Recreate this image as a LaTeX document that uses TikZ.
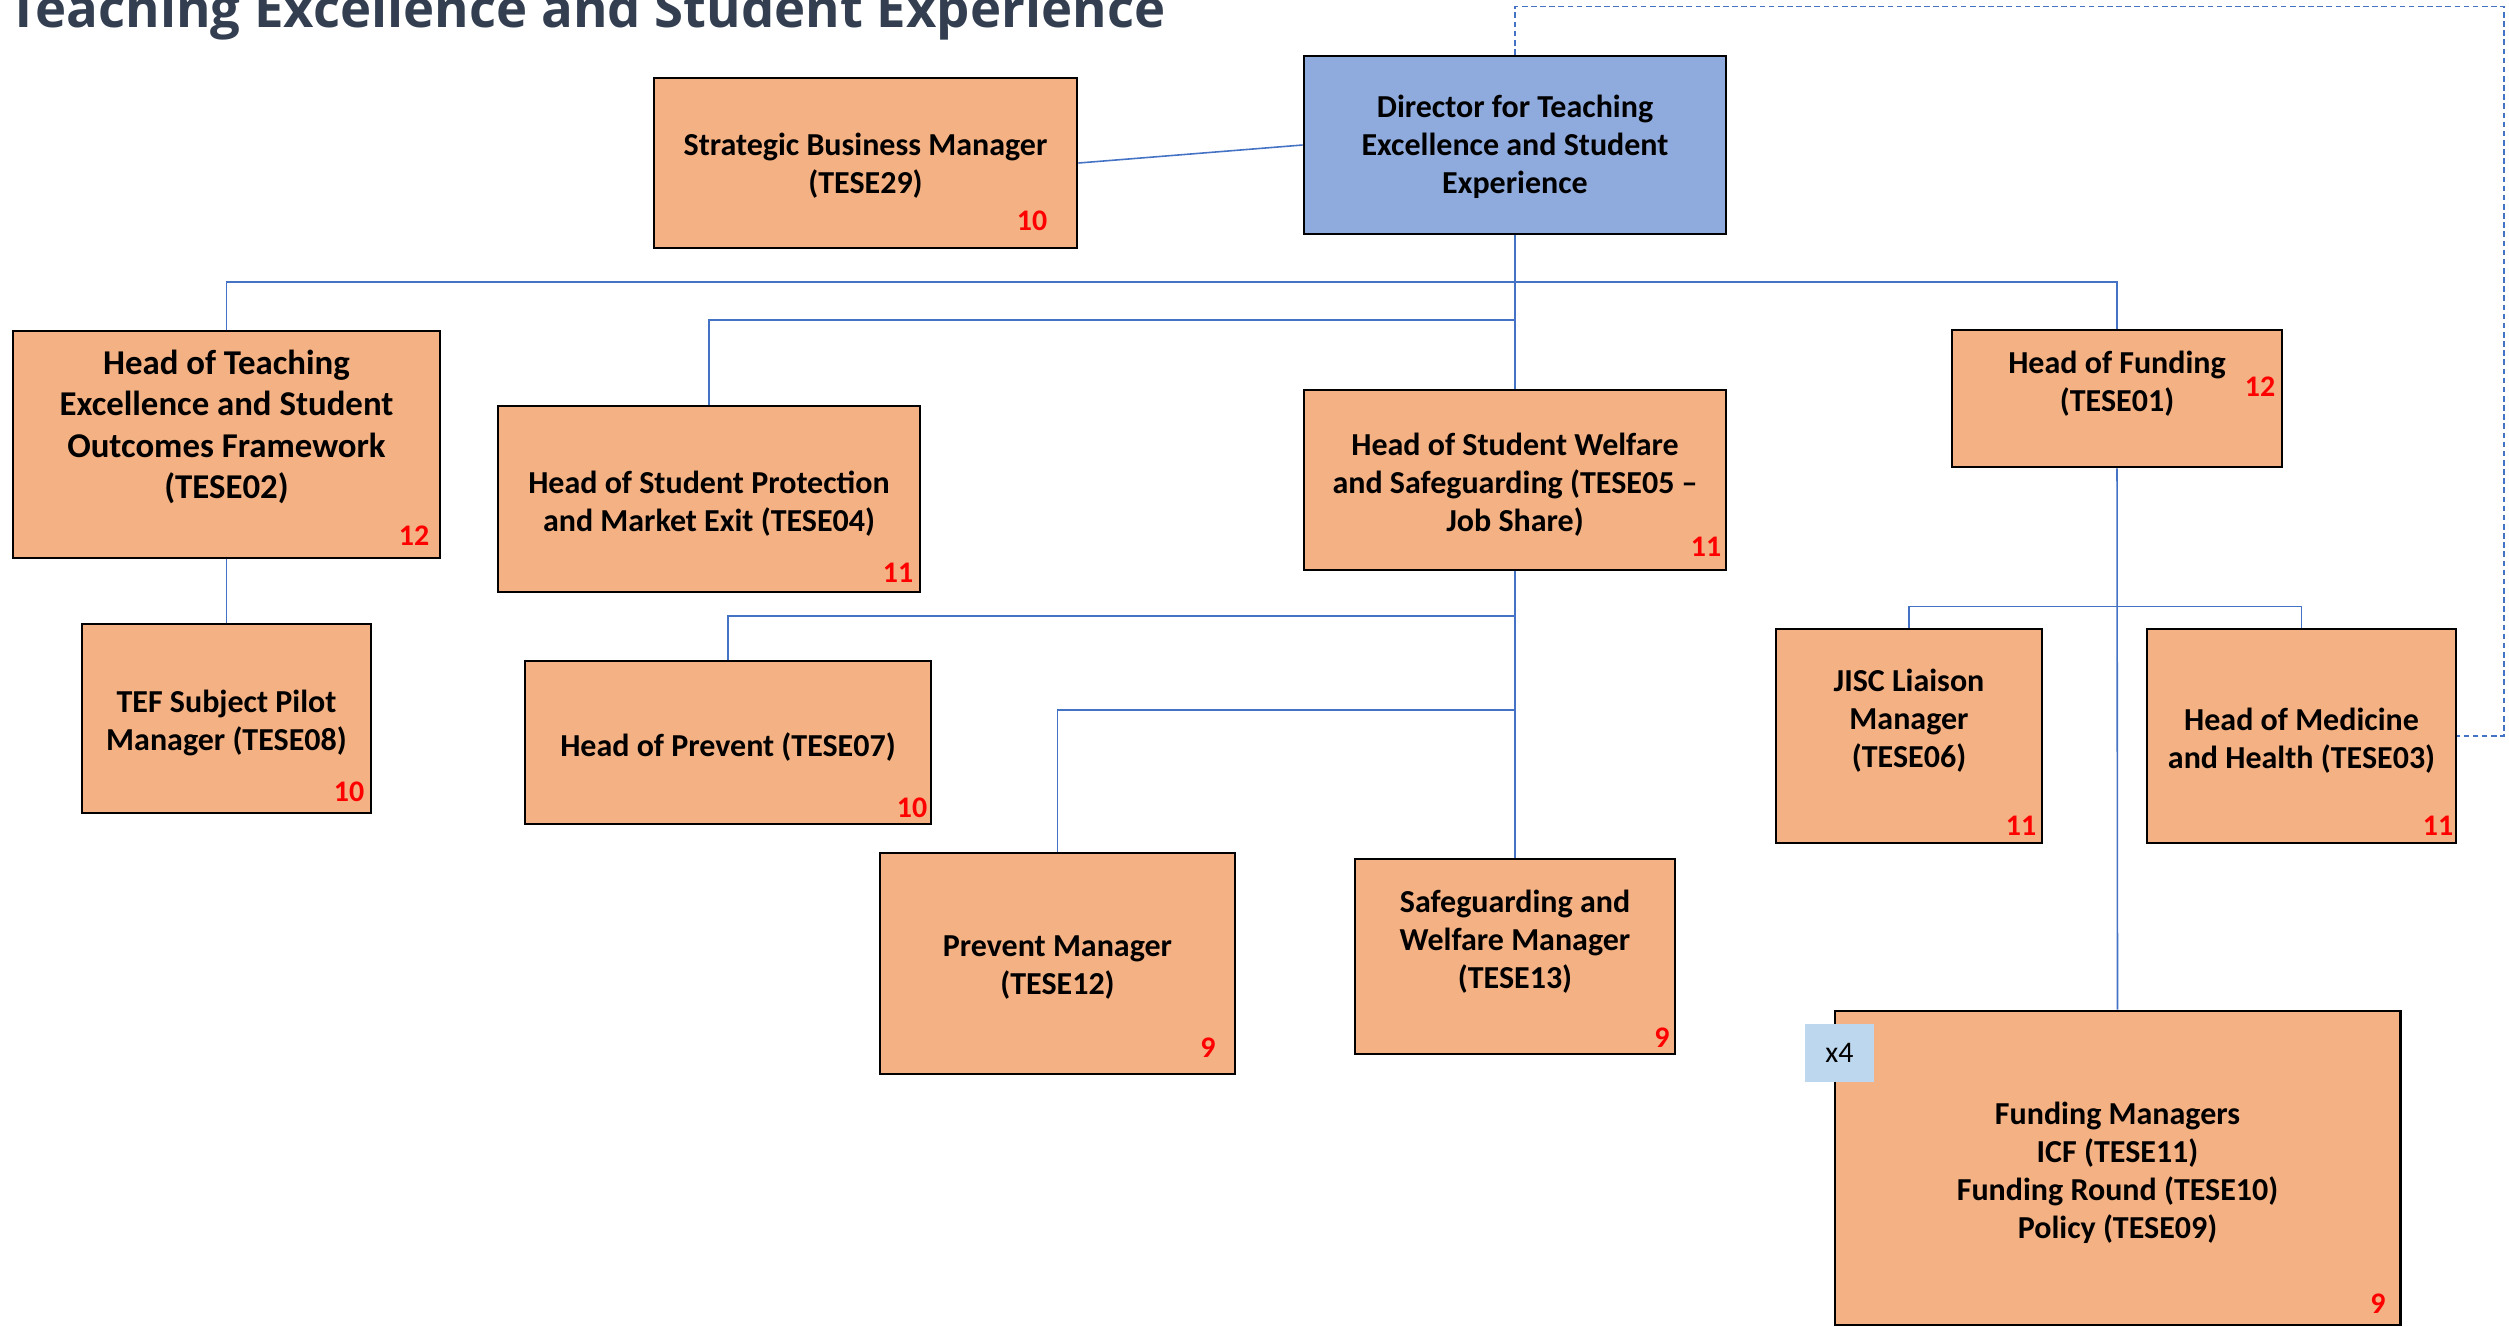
\documentclass[tikz,border=0pt]{standalone}
\usepackage{fontspec}
\setmainfont{Carlito}
\newfontfamily\titlefont{Open Sans}
\usetikzlibrary{calc}
\definecolor{boxfill}{HTML}{F4B183}
\definecolor{dirfill}{HTML}{8FAADC}
\definecolor{linkblue}{HTML}{4472C4}
\definecolor{titlecol}{HTML}{333F50}
\definecolor{badgefill}{HTML}{BDD7EE}
\begin{document}
\begin{tikzpicture}[x=0.01cm,y=-0.01cm,
  orgbox/.style={draw=black, line width=0.75pt, fill=boxfill, inner sep=0pt},
  dirbox/.style={orgbox, fill=dirfill},
  btxt/.style={align=center, font=\fontsize{9.1}{10.8}\selectfont\bfseries, inner sep=0pt, yshift=-0.03cm},
  bigtxt/.style={align=center, font=\fontsize{9.9}{11.8}\selectfont\bfseries, inner sep=0pt, yshift=-0.03cm},
  grade/.style={text=red, font=\fontsize{8.5}{10}\selectfont\bfseries, inner sep=0pt},
  link/.style={draw=linkblue, line width=0.45pt},
  dottedlink/.style={link, dash pattern=on 1.6pt off 1pt},
]
\clip (0,0) rectangle (2509,1326);
\useasboundingbox (0,0) rectangle (2509,1326);

% title
\node[anchor=base west, inner sep=0pt, text=titlecol, font=\titlefont\bfseries] (title) at (8,27)
  {\resizebox{11.56cm}{!}{Teaching Excellence and Student Experience}};

% boxes
\node[orgbox, minimum width=4.23cm, minimum height=1.70cm] (sbm) at (865.5,163) {};
\node[dirbox, minimum width=4.22cm, minimum height=1.78cm] (dir) at (1515,145) {};
\node[orgbox, minimum width=4.27cm, minimum height=2.27cm] (t02) at (226.5,444.5) {};
\node[orgbox, minimum width=2.89cm, minimum height=1.89cm] (t08) at (226.5,718.5) {};
\node[orgbox, minimum width=4.22cm, minimum height=1.86cm] (t04) at (709,499) {};
\node[orgbox, minimum width=4.06cm, minimum height=1.63cm] (t07) at (728,742.5) {};
\node[orgbox, minimum width=4.22cm, minimum height=1.80cm] (t05) at (1515,480) {};
\node[orgbox, minimum width=3.55cm, minimum height=2.21cm] (t12) at (1057.5,963.5) {};
\node[orgbox, minimum width=3.20cm, minimum height=1.95cm] (t13) at (1515,956.5) {};
\node[orgbox, minimum width=3.30cm, minimum height=1.37cm] (t01) at (2117,398.5) {};
\node[orgbox, minimum width=2.66cm, minimum height=2.14cm] (t06) at (1909,736) {};
\node[orgbox, minimum width=3.09cm, minimum height=2.14cm] (t03) at (2301.5,736) {};
\node[orgbox, minimum width=5.65cm, minimum height=3.14cm] (fm) at (2117.5,1168) {};

% box texts
\node[btxt] at (865.5,163) {Strategic Business Manager\\(TESE29)};
\node[btxt] at (1515,144) {Director for Teaching\\Excellence and Student\\Experience};
\node[bigtxt] at (226.5,424) {Head of Teaching\\Excellence and Student\\Outcomes Framework\\(TESE02)};
\node[btxt] at (226.5,720) {TEF Subject Pilot\\Manager (TESE08)};
\node[btxt] at (709,501) {Head of Student Protection\\and Market Exit (TESE04)};
\node[btxt] at (728,744) {Head of Prevent (TESE07)};
\node[btxt] at (1515,482) {Head of Student Welfare\\and Safeguarding (TESE05 --\\Job Share)};
\node[btxt] at (1057.5,965) {Prevent Manager\\(TESE12)};
\node[btxt] at (1515,939) {Safeguarding and\\Welfare Manager\\(TESE13)};
\node[btxt] at (2117,381) {Head of Funding\\(TESE01)};
\node[btxt] at (1909,718) {JISC Liaison\\Manager\\(TESE06)};
\node[btxt] at (2301.5,738) {Head of Medicine\\and Health (TESE03)};
\node[btxt] at (2117.5,1170) {Funding Managers\\ICF (TESE11)\\Funding Round (TESE10)\\Policy (TESE09)};

% grades
\node[grade] at (1032,221) {10};
\node[grade] at (414,536) {12};
\node[grade] at (349,792) {10};
\node[grade] at (898,573) {11};
\node[grade] at (912,808) {10};
\node[grade] at (1706,547) {11};
\node[grade] at (1208,1048) {9};
\node[grade] at (1662,1038) {9};
\node[grade] at (2260,387) {12};
\node[grade] at (2021,826) {11};
\node[grade] at (2438,826) {11};
\node[grade] at (2378,1304) {9};

% badge
\node[fill=badgefill, minimum width=0.69cm, minimum height=0.58cm, inner sep=0pt,
  font=\fontsize{8.5}{10}\selectfont] (badge) at (1839.5,1053) {x4};

% connectors
\coordinate (bus1) at (1515,282);
\coordinate (bus2) at (1515,320);
\coordinate (bus3) at (1515,616);
\coordinate (bus4) at (1515,710);
\coordinate (dashR) at (2504,736);
\draw[link] (sbm.east) -- (dir.west);
\draw[link] (dir.south) -- (t05.north);
\draw[link] (t02.north) |- (bus1) -| (t01.north);
\draw[link] (t04.north) |- (bus2);
\draw[link] (t02.south) -- (t08.north);
\draw[link] (t05.south) -- (t13.north);
\draw[link] (t07.north) |- (bus3);
\draw[link] (t12.north) |- (bus4);
\draw[link] (t01.south) -- (fm.north);
\draw[link] (t06.north) -- ++(0,-21) -| (t03.north);
\draw[dottedlink] (dir.north) -- ++(0,-48) -| (dashR) -- (t03.east);
\end{tikzpicture}
\end{document}
